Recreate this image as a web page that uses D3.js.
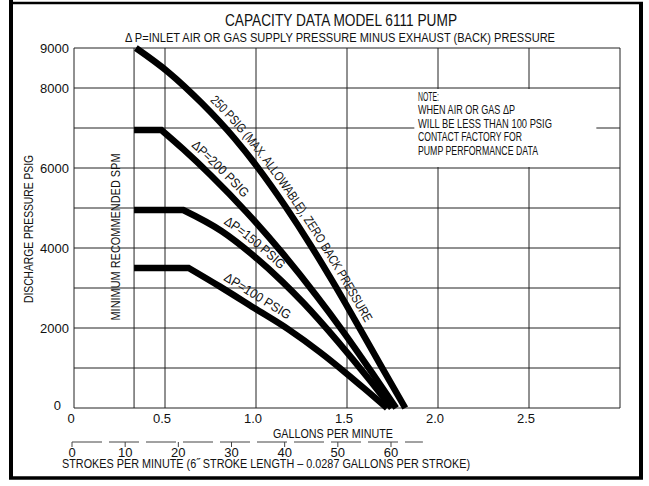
<!DOCTYPE html>
<html lang="en">
<head>
<meta charset="UTF-8">
<title>Capacity Data Model 6111 Pump</title>
<script src="https://d3js.org/d3.v7.min.js"></script>
<style>
  body { margin: 0; background: #fff; }
  svg { display: block; }
  text { font-family: "Liberation Sans Narrow", "Liberation Sans", "DejaVu Sans Condensed", sans-serif; font-stretch: condensed; fill: #111; }
  .grid line { stroke: #222; stroke-width: 1; }
  .curve { fill: none; stroke: #000; stroke-width: 6.5; }
</style>
</head>
<body>
<svg width="649" height="486"></svg>
<script>
// axis ticks
const pressureLabels = [9000, 8000, 6000, 4000, 2000, 0];
const pressureGrid = [0, 1000, 2000, 3000, 4000, 5000, 6000, 7000, 8000, 9000];
const gpmLabels = ["0", "0.5", "1.0", "1.5", "2.0", "2.5"];
const gpmGrid = [0, 0.5, 1.0, 1.5, 2.0, 2.5, 3.0];
const spmLabels = [0, 10, 20, 30, 40, 50, 60];
const minSpmGpm = 0.33;

// curves: [gpm, discharge psig]
const curve250 = [[0.34, 9000], [0.52, 8390], [0.70, 7630], [0.88, 6750], [1.01, 6010], [1.16, 5050], [1.30, 4070], [1.42, 3170], [1.54, 2230], [1.69, 1030], [1.82, 0]];
const curve200 = [[0.33, 6950], [0.48, 6950], [0.60, 6470], [0.75, 5825], [0.95, 4885], [1.15, 3845], [1.33, 2820], [1.48, 1905], [1.64, 865], [1.77, 0]];
const curve150 = [[0.33, 4950], [0.60, 4950], [0.81, 4425], [0.99, 3795], [1.14, 3180], [1.26, 2630], [1.45, 1660], [1.62, 725], [1.745, 0]];
const curve100 = [[0.33, 3500], [0.63, 3500], [0.80, 3040], [0.99, 2500], [1.18, 1960], [1.35, 1400], [1.49, 890], [1.62, 390], [1.72, 0]];

const curveNames = ["250 PSIG (MAX. ALLOWABLE), ZERO BACK PRESSURE", "\u0394P=200 PSIG", "\u0394P=150 PSIG", "\u0394P=100 PSIG"];
const labelStartGpm = [0.74, 0.64, 0.81, 0.81];
const labelLengths = [272, 74, 74, 76];

const noteLines = ["NOTE:", "WHEN AIR OR GAS \u0394P", "WILL BE LESS THAN 100 PSIG", "CONTACT FACTORY FOR", "PUMP PERFORMANCE DATA"];
const noteWidths = [21, 97, 134, 104, 120];

const svg = d3.select("svg");

const x = d3.scaleLinear().domain([0, 3]).range([74, 620]);
const y = d3.scaleLinear().domain([0, 9000]).range([408, 48]);
// the printed strokes scale runs a little wider than 0.0287 gal/stroke would give
const xs = d3.scaleLinear().domain([0, 60]).range([72, 391]);

// frame
svg.append("line").attr("x1", 11).attr("y1", 0).attr("x2", 11).attr("y2", 479).attr("stroke", "#000").attr("stroke-width", 4);
svg.append("line").attr("x1", 9).attr("y1", 3).attr("x2", 643).attr("y2", 3).attr("stroke", "#000").attr("stroke-width", 2.5);
svg.append("line").attr("x1", 641).attr("y1", 2).attr("x2", 641).attr("y2", 479).attr("stroke", "#000").attr("stroke-width", 4);
svg.append("line").attr("x1", 9).attr("y1", 478).attr("x2", 643).attr("y2", 478).attr("stroke", "#000").attr("stroke-width", 3.5);

// titles
svg.append("text").attr("x", 341).attr("y", 26).attr("text-anchor", "middle")
  .attr("font-size", 16).attr("textLength", 232).attr("lengthAdjust", "spacingAndGlyphs")
  .text("CAPACITY DATA MODEL 6111 PUMP");
svg.append("text").attr("x", 340).attr("y", 42).attr("text-anchor", "middle")
  .attr("font-size", 12.5).attr("textLength", 430).attr("lengthAdjust", "spacingAndGlyphs")
  .text("\u0394 P=INLET AIR OR GAS SUPPLY PRESSURE MINUS EXHAUST (BACK) PRESSURE");

// grid
const grid = svg.append("g").attr("class", "grid");
grid.selectAll("line.h").data(pressureGrid).enter().append("line").attr("class", "h")
  .attr("x1", x(0)).attr("x2", x(3)).attr("y1", d => y(d)).attr("y2", d => y(d));
grid.selectAll("line.v").data(gpmGrid).enter().append("line").attr("class", "v")
  .attr("x1", d => x(d)).attr("x2", d => x(d)).attr("y1", y(0)).attr("y2", y(9000));
grid.append("line").attr("x1", x(minSpmGpm)).attr("x2", x(minSpmGpm)).attr("y1", y(0)).attr("y2", y(9000));

// note box (blanks out the grid behind it)
svg.append("rect").attr("x", x(1.87)).attr("y", y(8000) + 1).attr("width", x(2.87) - x(1.87))
  .attr("height", y(6000) - y(8000) - 2).attr("fill", "#fff");
svg.append("g").selectAll("text").data(noteLines).enter().append("text")
  .attr("x", x(1.89)).attr("y", (d, i) => y(8000) + 12.5 + i * 13.5)
  .attr("font-size", 13).attr("textLength", (d, i) => noteWidths[i]).attr("lengthAdjust", "spacingAndGlyphs")
  .text(d => d);

// tick labels
svg.append("g").selectAll("text").data(pressureLabels).enter().append("text")
  .attr("x", d => d === 0 ? 61 : 69).attr("y", d => y(d) + (d === 0 ? 2 : 5))
  .attr("text-anchor", "end").attr("font-size", 13).text(d => d);
svg.append("g").selectAll("text").data(gpmLabels).enter().append("text")
  .attr("x", d => x(+d) - 3).attr("y", 423).attr("text-anchor", "middle")
  .attr("font-size", 13).text(d => d);

// axis titles
svg.append("text").attr("transform", "translate(33,229) rotate(-90)").attr("text-anchor", "middle")
  .attr("font-size", 13).attr("textLength", 148).attr("lengthAdjust", "spacingAndGlyphs")
  .text("DISCHARGE PRESSURE PSIG");
svg.append("text").attr("transform", `translate(${x(minSpmGpm) - 14},237) rotate(-90)`).attr("text-anchor", "middle")
  .attr("font-size", 13).attr("textLength", 167).attr("lengthAdjust", "spacingAndGlyphs")
  .text("MINIMUM RECOMMENDED SPM");
svg.append("text").attr("x", 333).attr("y", 438).attr("text-anchor", "middle")
  .attr("font-size", 13.5).attr("textLength", 120).attr("lengthAdjust", "spacingAndGlyphs")
  .text("GALLONS PER MINUTE");

// strokes per minute scale
svg.append("line").attr("x1", xs(0)).attr("x2", xs(66)).attr("y1", 442).attr("y2", 442)
  .attr("stroke", "#444").attr("stroke-width", 1).attr("stroke-dasharray", "30,7");
svg.append("g").selectAll("line").data(spmLabels).enter().append("line")
  .attr("x1", d => xs(d)).attr("x2", d => xs(d)).attr("y1", 442).attr("y2", 447)
  .attr("stroke", "#444").attr("stroke-width", 1);
svg.append("g").selectAll("text").data(spmLabels).enter().append("text")
  .attr("x", d => xs(d)).attr("y", 457).attr("text-anchor", "middle")
  .attr("font-size", 13).text(d => d);
svg.append("text").attr("x", 62).attr("y", 468)
  .attr("font-size", 13).attr("textLength", 408).attr("lengthAdjust", "spacingAndGlyphs")
  .text("STROKES PER MINUTE (6\u02DD STROKE LENGTH \u2013 0.0287 GALLONS PER STROKE)");

// curves
const line = d3.line().x(d => x(d[0])).y(d => y(d[1])).curve(d3.curveMonotoneX);
function curvePath(pts) {
  // flat run at the start is straight, then the falling part is smooth
  if (pts[0][1] === pts[1][1]) {
    return `M${x(pts[0][0])},${y(pts[0][1])}` + "L" + line(pts.slice(1)).slice(1);
  }
  return line(pts);
}
const curves = [curve250, curve200, curve150, curve100];
const paths = svg.append("g").selectAll("path").data(curves).enter().append("path")
  .attr("class", "curve").attr("d", d => curvePath(d));

// labels ride along an offset copy of each curve
const defs = svg.append("defs");
paths.each(function (d, i) {
  const node = this, L = node.getTotalLength(), off = 7.5, startX = x(labelStartGpm[i]);
  const pts = [];
  for (let s = 0; s <= L; s += 2) {
    const a = node.getPointAtLength(Math.max(0, s - 2)), b = node.getPointAtLength(Math.min(L, s + 2));
    const p = node.getPointAtLength(s);
    let tx = b.x - a.x, ty = b.y - a.y;
    const n = Math.hypot(tx, ty) || 1;
    tx /= n; ty /= n;
    const q = [p.x + off * ty, p.y - off * tx];
    if (q[0] >= startX) pts.push(q);
  }
  defs.append("path").attr("id", "lbl" + i).attr("d", d3.line()(pts));
  svg.append("text").attr("font-size", 13)
    .append("textPath").attr("href", "#lbl" + i)
    .attr("textLength", labelLengths[i]).attr("lengthAdjust", "spacingAndGlyphs")
    .text(curveNames[i]);
});
</script>
</body>
</html>
